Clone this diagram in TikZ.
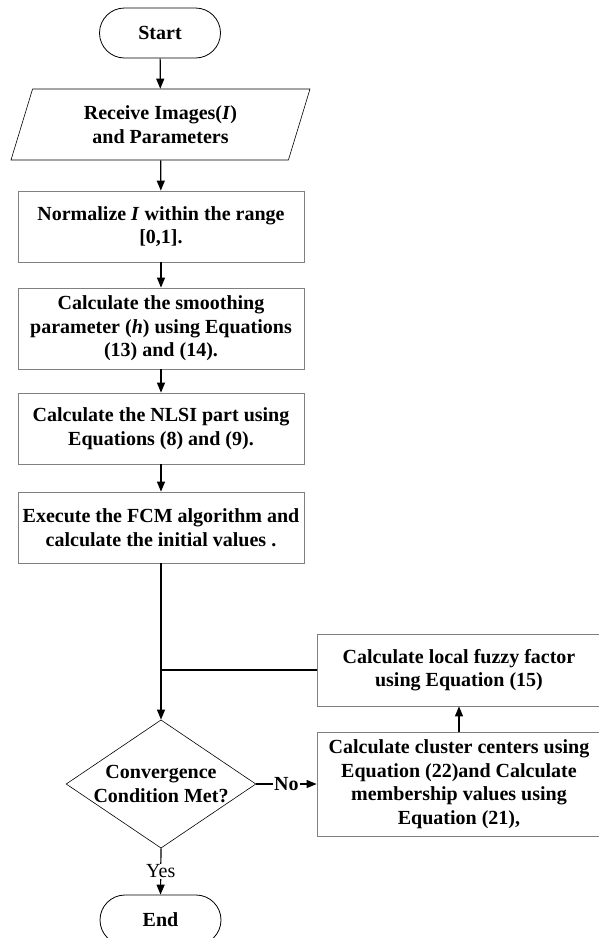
\documentclass[tikz,border=0pt]{standalone}
\usepackage{fontspec}
\setmainfont{Liberation Serif}
\usepackage{tikz}
\usetikzlibrary{shapes.geometric,arrows.meta}

\begin{document}
\begin{tikzpicture}[x=1pt,y=1pt,
    font=\fontsize{20}{23.5}\selectfont\bfseries,
    term/.style={draw,rounded corners=25pt,minimum width=121pt,minimum height=50pt,line width=0.8pt},
    proc/.style={draw=black!50,line width=0.8pt,align=center,minimum width=286pt},
    io/.style={draw,trapezium,trapezium left angle=64,trapezium right angle=116,trapezium stretches body,
        minimum width=299pt,minimum height=71pt,align=center,line width=0.6pt},
    arr/.style={-{Triangle[length=10pt,width=8pt]},line width=1.2pt}]
    \useasboundingbox (0,0) rectangle (598,-938);
    \node[term] (start) at (160,-33) {Start};
    \node[io] (input) at (160.5,-124.5) {Receive Images(\textit{I})\\and Parameters};
    \node[proc,minimum height=71pt] (norm) at (161,-226.5) {Normalize \textit{I} within the range\\{}[0,1].};
    \node[proc,minimum height=81pt] (smooth) at (161,-328.5) {Calculate the smoothing\\parameter (\textit{h}) using Equations\\(13) and (14).};
    \node[proc,minimum height=71pt] (nlsi) at (161,-428.5) {Calculate the NLSI part using\\Equations (8) and (9).};
    \node[proc,minimum height=71pt] (fcm) at (161,-527.5) {Execute the FCM algorithm and\\calculate the initial values .};
    \node[draw,diamond,aspect=1.48,inner sep=0pt,minimum width=188pt,minimum height=127pt,align=center,line width=0.6pt] (cond) at (161,-784) {Convergence\\Condition Met?};
    \node[proc,minimum width=284pt,minimum height=72pt] (local) at (459,-670) {Calculate local fuzzy factor\\using Equation (15)};
    \node[proc,minimum width=284pt,minimum height=104pt] (cluster) at (459,-784) {Calculate cluster centers using\\Equation (22)and Calculate\\membership values using\\Equation (21),};
    \node[term] (stop) at (160.5,-920) {End};
    \draw[arr] (start) to (input);
    \draw[arr] (input) to (norm);
    \draw[arr] (norm) to (smooth);
    \draw[arr] (smooth) to (nlsi);
    \draw[arr] (nlsi) to (fcm);
    \draw[arr] (fcm) to (cond);
    \draw[line width=1.2pt] (local.west) to (local.west -| fcm.south);
    \draw[arr] (cluster) to (local);
    \draw[arr] (cond.east) to node[fill=white,inner sep=1pt] {No} (cluster.west);
    \draw[arr] (cond.south) to node[fill=white,inner sep=1pt,font=\fontsize{20}{23.5}\selectfont] {Yes} (stop.north);
\end{tikzpicture}
\end{document}
